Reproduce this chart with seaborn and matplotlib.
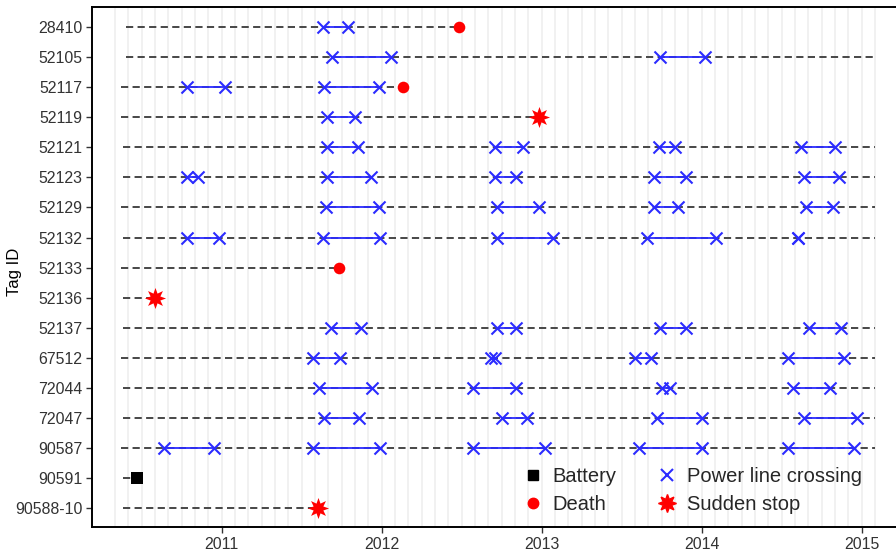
import numpy as np
import pandas as pd
import matplotlib
matplotlib.use('Agg')
import matplotlib.pyplot as plt
import seaborn as sns
from matplotlib.lines import Line2D
from matplotlib.ticker import FixedLocator

# Tag IDs, top to bottom
tags = ['28410', '52105', '52117', '52119', '52121', '52123', '52129', '52132', '52133',
        '52136', '52137', '67512', '72044', '72047', '90587', '90591', '90588-10']

# tracking period (decimal years)
track_start = [2010.40, 2010.40, 2010.37, 2010.37, 2010.38, 2010.38, 2010.37, 2010.38, 2010.37,
               2010.38, 2010.38, 2010.37, 2010.38, 2010.38, 2010.37, 2010.38, 2010.38]
track_end = [2012.48, 2015.08, 2012.13, 2012.98, 2015.08, 2015.08, 2015.08, 2015.08, 2011.73,
             2010.58, 2015.08, 2015.08, 2015.08, 2015.08, 2015.08, 2010.47, 2011.60]

# power line crossing bouts (first, last) per tag
crossings = {
    '28410': [(2011.63, 2011.79)],
    '52105': [(2011.69, 2012.06), (2013.74, 2014.02)],
    '52117': [(2010.78, 2011.02), (2011.64, 2011.98)],
    '52119': [(2011.66, 2011.83)],
    '52121': [(2011.66, 2011.85), (2012.71, 2012.88), (2013.73, 2013.83), (2014.62, 2014.83)],
    '52123': [(2010.78, 2010.85), (2011.66, 2011.93), (2012.71, 2012.84), (2013.70, 2013.90),
              (2014.64, 2014.86)],
    '52129': [(2011.65, 2011.98), (2012.72, 2012.98), (2013.70, 2013.85), (2014.65, 2014.82)],
    '52132': [(2010.78, 2010.98), (2011.63, 2011.99), (2012.72, 2013.07), (2013.66, 2014.09),
              (2014.60, 2014.60)],
    '52137': [(2011.68, 2011.87), (2012.72, 2012.84), (2013.74, 2013.90), (2014.67, 2014.87)],
    '67512': [(2011.57, 2011.74), (2012.68, 2012.71), (2013.58, 2013.68), (2014.54, 2014.89)],
    '72044': [(2011.61, 2011.94), (2012.57, 2012.84), (2013.75, 2013.80), (2014.57, 2014.80)],
    '72047': [(2011.64, 2011.86), (2012.75, 2012.91), (2013.72, 2014.00), (2014.64, 2014.97)],
    '90587': [(2010.64, 2010.95), (2011.57, 2011.99), (2012.57, 2013.02), (2013.61, 2014.00),
              (2014.54, 2014.95)],
}

# end of track events
fate_tags = ['28410', '52117', '52119', '52133', '52136', '90591', '90588-10']
fate_kind = ['Death', 'Death', 'Sudden stop', 'Death', 'Sudden stop', 'Battery', 'Sudden stop']

year_ticks = [2011, 2012, 2013, 2014, 2015]

BLUE = '#2b2bff'
RED = '#ff0000'
STAR = (8, 1, 0)

ypos = {t: i for i, t in enumerate(tags)}

rows = []
for tag, bouts in crossings.items():
    for b, (t0, t1) in enumerate(bouts):
        rows.append({'tag': tag, 'y': ypos[tag], 'bout': f'{tag}_{b}', 'time': t0})
        rows.append({'tag': tag, 'y': ypos[tag], 'bout': f'{tag}_{b}', 'time': t1})
cross_df = pd.DataFrame(rows)

end_lookup = dict(zip(tags, track_end))
fate_df = pd.DataFrame({'tag': fate_tags, 'kind': fate_kind})
fate_df['y'] = fate_df['tag'].map(ypos)
fate_df['time'] = fate_df['tag'].map(end_lookup)

sns.set_style('white')
plt.rcParams['font.family'] = ['Liberation Sans', 'DejaVu Sans']

fig = plt.figure(figsize=(8.96, 5.51), dpi=100)
ax = fig.add_axes([0.1027, 0.0436, 0.8973, 0.9437])

# monthly grid lines
months = np.arange(2010 + 4 / 12, 2015 + 1.5 / 12, 1 / 12)
ax.set_xticks(year_ticks)
ax.xaxis.set_minor_locator(FixedLocator(months))
ax.grid(which='both', axis='x', color='#ededed', lw=1.1, zorder=0)
ax.set_axisbelow(True)

# tracking periods
for i, tag in enumerate(tags):
    ax.plot([track_start[i], track_end[i]], [i, i], color='#383838', lw=1.3,
            ls=(0, (4.0, 2.4)), zorder=2)

# crossing bouts
sns.lineplot(data=cross_df, x='time', y='y', units='bout', estimator=None, sort=False,
             color=BLUE, lw=1.3, ax=ax, zorder=3, legend=False)
sns.scatterplot(data=cross_df, x='time', y='y', marker='x', color=BLUE, s=75,
                linewidth=1.5, ax=ax, zorder=4, legend=False)

# fates
styles = {'Battery': dict(marker='s', color='black', s=80),
          'Death': dict(marker='o', color=RED, s=70),
          'Sudden stop': dict(marker=STAR, color=RED, s=230)}
for kind, kw in styles.items():
    sub = fate_df[fate_df['kind'] == kind]
    sns.scatterplot(data=sub, x='time', y='y', linewidth=0, ax=ax, zorder=5,
                    legend=False, **kw)

ax.set_xlim(2010.189, 2015.214)
ax.set_ylim(len(tags) - 1 + 0.63, -0.67)
ax.set_yticks(range(len(tags)))
ax.set_yticklabels(tags)
ax.set_xticklabels([str(y) for y in year_ticks])
ax.set_xlabel('')
ax.set_ylabel('Tag ID', fontsize=12, color='black')
ax.yaxis.set_label_coords(-0.087, 0.49)

ax.tick_params(axis='both', which='major', labelsize=11.4, labelcolor='#333333',
               length=4, width=1.0, color='#333333', direction='out', pad=3)
ax.tick_params(axis='x', which='minor', length=0)
ax.tick_params(left=True, bottom=True)
for side in ['left', 'bottom', 'top']:
    ax.spines[side].set_visible(True)
    ax.spines[side].set_color('black')
    ax.spines[side].set_linewidth(1.4)
ax.spines['right'].set_visible(False)

handles = [
    Line2D([], [], ls='none', marker='s', color='black', markersize=7.5),
    Line2D([], [], ls='none', marker='o', color=RED, markersize=7.5),
    Line2D([], [], ls='none', marker='x', color=BLUE, markersize=9, mew=1.5),
    Line2D([], [], ls='none', marker=STAR, color=RED, markersize=13),
]
labels = ['Battery', 'Death', 'Power line crossing', 'Sudden stop']
fig.legend(handles, labels, ncol=2, loc='center', bbox_to_anchor=(0.775, 0.1095),
           bbox_transform=fig.transFigure, frameon=False, fontsize=14.5,
           handlelength=0.6, handletextpad=0.7, columnspacing=2.2,
           labelspacing=0.45, borderpad=0, borderaxespad=0)

fig.savefig('out.png', dpi=100)
